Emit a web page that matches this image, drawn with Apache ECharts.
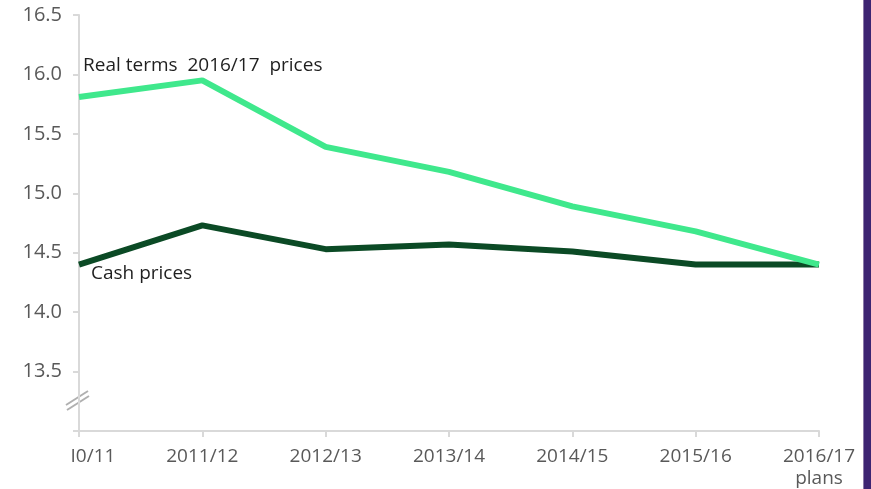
<!DOCTYPE html>
<html>
<head>
<meta charset="utf-8">
<script src="https://cdn.jsdelivr.net/npm/echarts@6/dist/echarts.min.js"></script>
<style>
  html, body { margin: 0; padding: 0; background: #fff; }
  #chart { width: 871px; height: 489px; }
</style>
</head>
<body>
<div id="chart"></div>
<script>
var years = ['I0/11', '2011/12', '2012/13', '2013/14', '2014/15', '2015/16', '2016/17\nplans'];
var realTerms = [15.81, 15.95, 15.39, 15.18, 14.89, 14.68, 14.40];
var cashPrices = [14.40, 14.73, 14.53, 14.57, 14.51, 14.40, 14.40];
var yTicks = [13.0, 13.5, 14.0, 14.5, 15.0, 15.5, 16.0, 16.5];

var font = '"Open Sans", "Noto Sans", sans-serif';
var chart = echarts.init(document.getElementById('chart'));

// first label is cut off in the original, shift it right a bit
var xData = years.map(function (y, i) {
    if (i === 0) return { value: y, textStyle: { padding: [0, 0, 0, 28] } };
    return y;
});

var option = {
    animation: false,
    grid: { left: 79, right: 52, top: 15, bottom: 58, outerBoundsMode: 'none', containLabel: false },
    xAxis: {
        type: 'category',
        data: xData,
        boundaryGap: false,
        axisLine: { lineStyle: { color: '#d9d9d9', width: 2 } },
        axisTick: { show: true, length: 6, alignWithLabel: true, lineStyle: { color: '#d9d9d9', width: 2 } },
        axisLabel: {
            color: '#595959', fontFamily: font, fontSize: 19, margin: 15, lineHeight: 22,
            interval: 0
        }
    },
    yAxis: {
        type: 'value',
        min: yTicks[0],
        max: yTicks[yTicks.length - 1],
        interval: 0.5,
        splitLine: { show: false },
        axisLine: { show: true, lineStyle: { color: '#d9d9d9', width: 2 } },
        axisTick: { show: true, length: 6, lineStyle: { color: '#d9d9d9', width: 2 } },
        axisLabel: {
            color: '#595959', fontFamily: font, fontSize: 20, margin: 17,
            formatter: function (v) { return v === yTicks[0] ? '' : v.toFixed(1); }
        }
    },
    series: [
        {
            name: 'Cash prices',
            type: 'line',
            data: cashPrices,
            symbol: 'none',
            lineStyle: { color: '#0b4a25', width: 6 },
            z: 2
        },
        {
            name: 'Real terms 2016/17 prices',
            type: 'line',
            data: realTerms,
            symbol: 'none',
            lineStyle: { color: '#3fe88c', width: 6 },
            z: 3
        }
    ],
    graphic: [
        { type: 'text', left: 83, top: 56, style: { text: 'Real terms  2016/17  prices', font: '19px ' + font, fill: '#1f1f1f' } },
        { type: 'text', left: 91, top: 264, style: { text: 'Cash prices', font: '19px ' + font, fill: '#1f1f1f' } },
        { type: 'line', shape: { x1: 66, y1: 405, x2: 88, y2: 391 }, style: { stroke: '#b0b0b0', lineWidth: 2 } },
        { type: 'line', shape: { x1: 67, y1: 410, x2: 89, y2: 396 }, style: { stroke: '#b0b0b0', lineWidth: 2 } },
        { type: 'rect', shape: { x: 863, y: 0, width: 8, height: 489 }, style: { fill: '#3d2472' } },
        { type: 'rect', shape: { x: 863, y: 0, width: 1, height: 489 }, style: { fill: '#8a7aa8' } }
    ]
};
chart.setOption(option);
</script>
</body>
</html>
